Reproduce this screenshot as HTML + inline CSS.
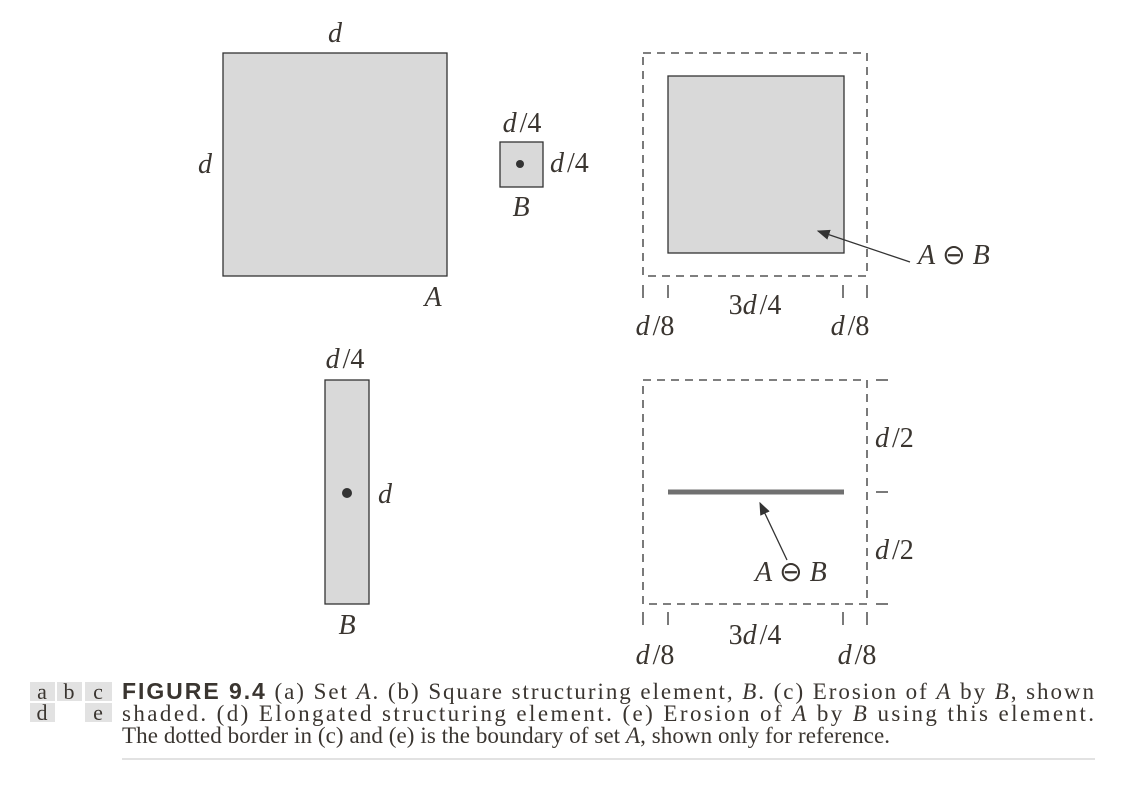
<!DOCTYPE html>
<html><head><meta charset="utf-8"><style>
body{margin:0;background:#fff;width:1123px;height:791px;overflow:hidden}
svg{display:block}
.t{font-family:"Liberation Serif",serif;fill:#3a3530}
.i{font-style:italic}
</style></head><body>
<svg width="1123" height="791">
<defs><marker id="ah" markerWidth="10" markerHeight="8" refX="9" refY="4" orient="auto"><path d="M0,0L10,4L0,8z" fill="#333"/></marker></defs>
<g>
<rect x="223" y="53" width="224" height="223" fill="#d9d9d9" stroke="#333" stroke-width="1.3"/>
<text class="t i" x="335" y="42" font-size="28" text-anchor="middle">d</text>
<text class="t i" x="205" y="173" font-size="28" text-anchor="middle">d</text>
<text class="t i" x="433" y="306" font-size="28" text-anchor="middle">A</text>
</g>
<g>
<rect x="500" y="142" width="43" height="45" fill="#d9d9d9" stroke="#333" stroke-width="1.3"/>
<circle cx="520" cy="164" r="4" fill="#333"/>
<text class="t" x="522" y="132" font-size="28" text-anchor="middle"><tspan font-style="italic">d</tspan><tspan dx="3">/4</tspan></text>
<text class="t" x="550" y="172" font-size="28"><tspan font-style="italic">d</tspan><tspan dx="3">/4</tspan></text>
<text class="t i" x="521" y="216" font-size="28" text-anchor="middle">B</text>
</g>
<g stroke="#333" stroke-width="1.3">
<rect x="643" y="53" width="224" height="223" fill="none" stroke-dasharray="8,6"/>
<rect x="668" y="76" width="176" height="177" fill="#d9d9d9"/>
<line x1="910" y1="262" x2="818" y2="231" marker-end="url(#ah)"/>
<line x1="643" y1="285" x2="643" y2="298"/><line x1="668" y1="285" x2="668" y2="298"/>
<line x1="843" y1="285" x2="843" y2="298"/><line x1="867" y1="285" x2="867" y2="298"/>
</g>
<text class="t" x="918" y="264" font-size="28"><tspan font-style="italic">A</tspan> ⊖ <tspan font-style="italic">B</tspan></text>
<text class="t" x="655" y="335" font-size="28" text-anchor="middle"><tspan font-style="italic">d</tspan><tspan dx="3">/8</tspan></text>
<text class="t" x="755" y="314" font-size="28" text-anchor="middle">3<tspan font-style="italic">d</tspan><tspan dx="3">/4</tspan></text>
<text class="t" x="850" y="335" font-size="28" text-anchor="middle"><tspan font-style="italic">d</tspan><tspan dx="3">/8</tspan></text>
<g>
<rect x="325" y="380" width="44" height="224" fill="#d9d9d9" stroke="#333" stroke-width="1.3"/>
<circle cx="347" cy="493" r="5" fill="#333"/>
<text class="t" x="345" y="368" font-size="28" text-anchor="middle"><tspan font-style="italic">d</tspan><tspan dx="3">/4</tspan></text>
<text class="t i" x="378" y="503" font-size="28">d</text>
<text class="t i" x="347" y="634" font-size="28" text-anchor="middle">B</text>
</g>
<g stroke="#333" stroke-width="1.3">
<rect x="643" y="380" width="224" height="224" fill="none" stroke-dasharray="8,6"/>
<line x1="668" y1="492" x2="844" y2="492" stroke="#707070" stroke-width="5"/>
<line x1="787" y1="560" x2="760" y2="503" marker-end="url(#ah)"/>
<line x1="876" y1="380" x2="888" y2="380"/><line x1="876" y1="492" x2="888" y2="492"/><line x1="876" y1="604" x2="888" y2="604"/>
<line x1="643" y1="612" x2="643" y2="625"/><line x1="668" y1="612" x2="668" y2="625"/>
<line x1="843" y1="612" x2="843" y2="625"/><line x1="867" y1="612" x2="867" y2="625"/>
</g>
<text class="t" x="755" y="581" font-size="28"><tspan font-style="italic">A</tspan> ⊖ <tspan font-style="italic">B</tspan></text>
<text class="t" x="875" y="447" font-size="28"><tspan font-style="italic">d</tspan><tspan dx="3">/2</tspan></text>
<text class="t" x="875" y="559" font-size="28"><tspan font-style="italic">d</tspan><tspan dx="3">/2</tspan></text>
<text class="t" x="655" y="664" font-size="28" text-anchor="middle"><tspan font-style="italic">d</tspan><tspan dx="3">/8</tspan></text>
<text class="t" x="755" y="644" font-size="28" text-anchor="middle">3<tspan font-style="italic">d</tspan><tspan dx="3">/4</tspan></text>
<text class="t" x="857" y="664" font-size="28" text-anchor="middle"><tspan font-style="italic">d</tspan><tspan dx="3">/8</tspan></text>
<g>
<rect x="30" y="682" width="25" height="19" fill="#e2e2e2"/><rect x="57" y="682" width="25" height="19" fill="#e2e2e2"/><rect x="85" y="682" width="27" height="19" fill="#e2e2e2"/>
<rect x="30" y="703" width="25" height="19" fill="#e2e2e2"/><rect x="85" y="703" width="27" height="19" fill="#e2e2e2"/>
<text class="t" x="42" y="699" font-size="22" text-anchor="middle">a</text>
<text class="t" x="69" y="699" font-size="22" text-anchor="middle">b</text>
<text class="t" x="98" y="699" font-size="22" text-anchor="middle">c</text>
<text class="t" x="42" y="720" font-size="22" text-anchor="middle">d</text>
<text class="t" x="98" y="720" font-size="22" text-anchor="middle">e</text>
<text class="t" x="122" y="699" font-size="23" textLength="972" lengthAdjust="spacing"><tspan font-family="Liberation Sans Narrow,Liberation Sans,sans-serif" font-weight="bold">FIGURE 9.4</tspan>  (a) Set <tspan font-style="italic">A</tspan>. (b) Square structuring element, <tspan font-style="italic">B</tspan>. (c) Erosion of <tspan font-style="italic">A</tspan> by <tspan font-style="italic">B</tspan>, shown</text>
<text class="t" x="122" y="721" font-size="23" textLength="972" lengthAdjust="spacing">shaded. (d) Elongated structuring element. (e) Erosion of <tspan font-style="italic">A</tspan> by <tspan font-style="italic">B</tspan> using this element.</text>
<text class="t" x="122" y="743" font-size="23" textLength="768" lengthAdjust="spacing">The dotted border in (c) and (e) is the boundary of set <tspan font-style="italic">A</tspan>, shown only for reference.</text>
<line x1="122" y1="759" x2="1095" y2="759" stroke="#d8d8d8" stroke-width="1.5"/>
</g>
</svg>
</body></html>
